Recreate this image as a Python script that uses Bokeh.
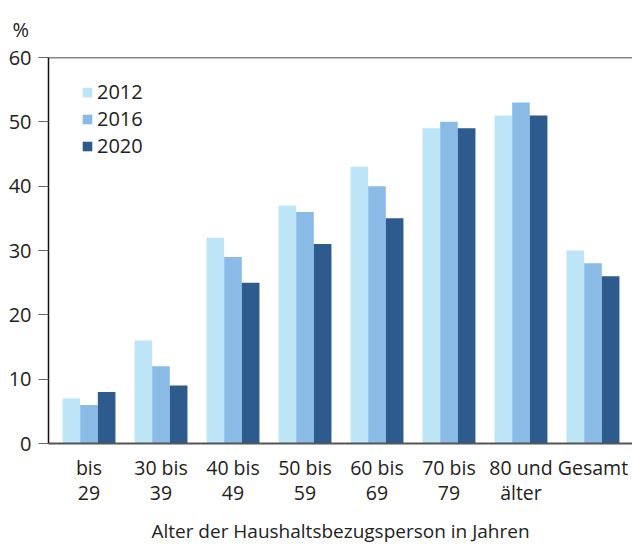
import numpy as np
from bokeh.plotting import figure
from bokeh.models import Range1d, FixedTicker, Span, ColumnDataSource
from bokeh.transform import dodge
from bokeh.embed import file_html
from bokeh.resources import INLINE

categories = ["bis\n29", "30 bis\n39", "40 bis\n49", "50 bis\n59", "60 bis\n69", "70 bis\n79", "80 und\nälter", "Gesamt"]
years = ["2012", "2016", "2020"]
v2012 = [7, 16, 32, 37, 43, 49, 51, 30]
v2016 = [6, 12, 29, 36, 40, 50, 53, 28]
v2020 = [8, 9, 25, 31, 35, 49, 51, 26]
colors = ["#bee4f8", "#8abbe6", "#2e5b8e"]
y_ticks = [0, 10, 20, 30, 40, 50, 60]
unit_label = "%"

FONT = "Open Sans"

xs = list(range(len(categories)))
src = ColumnDataSource(dict(x=xs, v2012=v2012, v2016=v2016, v2020=v2020))

p = figure(width=632, height=547, output_backend="svg", toolbar_location=None,
           x_range=Range1d(-0.5625, 7.549), y_range=Range1d(0, 60),
           min_border_left=48, min_border_right=0, min_border_top=57, min_border_bottom=104)
p.outline_line_color = None
p.xgrid.grid_line_color = None
p.ygrid.grid_line_color = None

# "%" as title, top-left
p.title.text = unit_label
p.title.align = "left"
p.title.vertical_align = "top"
p.title.offset = -36
p.title.standoff = 26
p.title.text_font = FONT
p.title.text_font_size = "20px"
p.title.text_font_style = "normal"
p.title.text_color = "#222222"

bw = 0.245
for off, key, col, yr in zip([-bw, 0, bw], ["v2012", "v2016", "v2020"], colors, years):
    p.vbar(x=dodge("x", off), top=key, width=bw, source=src, fill_color=col,
           line_color=None, legend_label=yr)

# axes
p.yaxis.ticker = FixedTicker(ticks=y_ticks)
p.yaxis.major_tick_in = 0
p.yaxis.major_tick_out = 10
p.yaxis.minor_tick_out = 0
p.yaxis.minor_tick_in = 0
p.yaxis.major_tick_line_color = "#666666"
p.yaxis.axis_line_color = "#111111"
p.yaxis.axis_line_width = 1.5
p.yaxis.major_label_text_font = FONT
p.yaxis.major_label_text_font_size = "20px"
p.yaxis.major_label_text_color = "#222222"
p.yaxis.major_label_standoff = 7

p.xaxis.ticker = FixedTicker(ticks=xs)
p.xaxis.major_label_overrides = {i: c for i, c in enumerate(categories)}
p.xaxis.major_tick_in = 0
p.xaxis.major_tick_out = 0
p.xaxis.minor_tick_out = 0
p.xaxis.axis_line_color = "#555555"
p.xaxis.axis_line_width = 2
p.xaxis.major_label_text_font = FONT
p.xaxis.major_label_text_font_size = "19.5px"
p.xaxis.major_label_text_line_height = 0.95
p.xaxis.major_label_text_color = "#222222"
p.xaxis.major_label_standoff = 10
p.xaxis.axis_label = "Alter der Haushaltsbezugsperson in Jahren"
p.xaxis.axis_label_text_font = FONT
p.xaxis.axis_label_text_font_size = "19px"
p.xaxis.axis_label_text_font_style = "normal"
p.xaxis.axis_label_text_color = "#222222"
p.xaxis.axis_label_standoff = 9

# top line
p.add_layout(Span(location=60, dimension="width", line_color="#111111", line_width=1.5))

leg = p.legend[0]
leg.location = (33, 284)
leg.margin = 0
leg.padding = 0
leg.spacing = 0
leg.glyph_width = 12
leg.glyph_height = 12
leg.label_height = 20
leg.label_standoff = 4
leg.label_text_font = FONT
leg.label_text_font_size = "20px"
leg.label_text_line_height = 0.95
leg.label_text_color = "#222222"
leg.background_fill_alpha = 0
leg.border_line_color = None

open("out.html", "w").write(file_html(p, INLINE))
